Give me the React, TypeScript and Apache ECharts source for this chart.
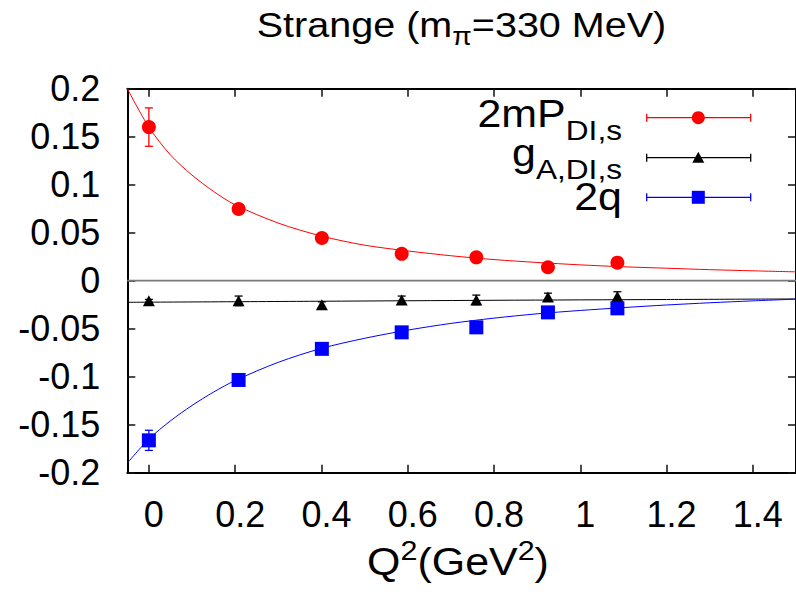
import React, { useEffect, useRef } from 'react';
import * as echarts from 'echarts';

// ---- data ----
const xTicks = [0, 0.2, 0.4, 0.6, 0.8, 1.0, 1.2, 1.4];
const q2 = [0, 0.208, 0.401, 0.586, 0.759, 0.925, 1.086];

const pValues = [0.16, 0.0747, 0.0445, 0.028, 0.0243, 0.014, 0.0188];
const pErrors = [0.02, 0.0025, 0.002, 0.002, 0.002, 0.002, 0.002];

const gValues = [-0.021, -0.021, -0.025, -0.02, -0.02, -0.017, -0.0165];
const gErrors = [0.0015, 0.005, 0.003, 0.004, 0.005, 0.004, 0.005];

const qValues = [-0.1663, -0.1034, -0.071, -0.0538, -0.0486, -0.033, -0.0288];
const qErrors = [0.0105, 0.003, 0.003, 0.003, 0.003, 0.003, 0.003];

const fitX = [-0.05, 0, 0.05, 0.1, 0.15, 0.2, 0.3, 0.4, 0.5, 0.6, 0.7, 0.8, 0.9, 1.0, 1.1, 1.2, 1.3, 1.4, 1.5];
const pFit = [0.2, 0.16, 0.131, 0.11, 0.093, 0.079, 0.06, 0.0465, 0.037, 0.031, 0.026, 0.022, 0.019, 0.0165, 0.0145, 0.013, 0.0115, 0.0103, 0.0092];
const qFit = [-0.19, -0.165, -0.146, -0.13, -0.116, -0.104, -0.085, -0.0705, -0.06, -0.0515, -0.0445, -0.039, -0.0345, -0.031, -0.028, -0.0253, -0.023, -0.021, -0.0192];
const gFitX = [-0.05, 0.4, 0.8, 1.2, 1.5];
const gFit = [-0.0225, -0.0214, -0.0204, -0.0196, -0.019];

const RED = '#ff0000';
const BLUE = '#0000ff';
const BLACK = '#000000';
const FONT = 'Liberation Sans';
const SX = 1.13;

function pairs(xs: number[], ys: number[]) {
  return xs.map((x, i) => [x, ys[i]]);
}
function errs(xs: number[], ys: number[], es: number[]) {
  return xs.map((x, i) => [x, ys[i] - es[i], ys[i] + es[i]]);
}

function errorSeries(data: number[][], color: string) {
  return {
    type: 'custom',
    data,
    encode: { x: 0, y: [1, 2] },
    z: 3,
    renderItem: (params: any, api: any) => {
      const x = api.value(0);
      const lo = api.coord([x, api.value(1)]);
      const hi = api.coord([x, api.value(2)]);
      const w = 4;
      const st = { stroke: color, lineWidth: 1.3 };
      return {
        type: 'group',
        children: [
          { type: 'line', shape: { x1: lo[0], y1: lo[1], x2: hi[0], y2: hi[1] }, style: st },
          { type: 'line', shape: { x1: lo[0] - w, y1: lo[1], x2: lo[0] + w, y2: lo[1] }, style: st },
          { type: 'line', shape: { x1: hi[0] - w, y1: hi[1], x2: hi[0] + w, y2: hi[1] }, style: st },
        ],
      };
    },
  };
}

function richText(x: number, y: number, text: string, rich: any, align: string) {
  return {
    type: 'text',
    x,
    y,
    scaleX: SX,
    z: 20,
    style: { text, rich, align, verticalAlign: 'middle', fill: '#000' },
  };
}

function legendMark(y: number, color: string, symbol: any) {
  const st = { stroke: color, lineWidth: 1.3 };
  const x1 = 646.7;
  const x2 = 750.7;
  return [
    { type: 'line', z: 20, shape: { x1, y1: y, x2, y2: y }, style: st },
    { type: 'line', z: 20, shape: { x1, y1: y - 4, x2: x1, y2: y + 4 }, style: st },
    { type: 'line', z: 20, shape: { x1: x2, y1: y - 4, x2, y2: y + 4 }, style: st },
    symbol,
  ];
}

export default function App() {
  const ref = useRef<HTMLDivElement>(null);
  useEffect(() => {
    if (!ref.current) return;
    const chart = echarts.init(ref.current, undefined, { renderer: 'svg' });
    const labelStyle = { fontFamily: FONT, fontSize: 36, color: '#000' };
    const fmt = (v: number) => String(parseFloat(v.toFixed(2)));
    const tickStyle = { show: true, inside: true, length: 8, lineStyle: { color: '#111', width: 1.5 } };
    const axLine = { show: true, onZero: false, lineStyle: { color: '#000', width: 2 } };

    const a = (fs: number) => ({ fontFamily: FONT, fontSize: fs, fill: '#000' });
    const sub = (fs: number, p: number) => ({ fontFamily: FONT, fontSize: fs, fill: '#000', padding: [p, 0, 0, 0] });
    const sup = (fs: number, p: number) => ({ fontFamily: FONT, fontSize: fs, fill: '#000', padding: [0, 0, p, 0] });

    const ly1 = 117.7, ly2 = 157.7, ly3 = 197.3, lx = 698.3;

    const option: any = {
      animation: false,
      grid: { left: 127.3, top: 88.7, width: 672, height: 384 },
      xAxis: [
        {
          type: 'value', min: -0.05, max: 1.5, position: 'bottom',
          axisLine: axLine,
          axisTick: { ...tickStyle, customValues: xTicks },
          axisLabel: { ...labelStyle, customValues: xTicks, margin: 24, padding: [0, 0, 0, 10], formatter: fmt },
          splitLine: { show: false },
        },
        {
          type: 'value', min: -0.05, max: 1.5, position: 'top',
          axisLine: axLine,
          axisTick: { ...tickStyle, customValues: xTicks },
          axisLabel: { show: false },
          splitLine: { show: false },
        },
      ],
      yAxis: [
        {
          type: 'value', min: -0.2, max: 0.2, interval: 0.05, position: 'left',
          axisLine: axLine,
          axisTick: tickStyle,
          axisLabel: { ...labelStyle, margin: 27, formatter: fmt },
          splitLine: { show: false },
        },
        {
          type: 'value', min: -0.2, max: 0.2, interval: 0.05, position: 'right',
          axisLine: axLine,
          axisTick: tickStyle,
          axisLabel: { show: false },
          splitLine: { show: false },
        },
      ],
      series: [
        {
          type: 'line', data: [[-0.05, 0], [1.5, 0]], symbol: 'none', z: 1,
          lineStyle: { color: '#7a7a7a', width: 1.8 },
        },
        { type: 'line', data: pairs(fitX, pFit), smooth: 0.3, symbol: 'none', z: 2, lineStyle: { color: RED, width: 1 } },
        { type: 'line', data: pairs(gFitX, gFit), smooth: 0.3, symbol: 'none', z: 2, lineStyle: { color: BLACK, width: 1 } },
        { type: 'line', data: pairs(fitX, qFit), smooth: 0.3, symbol: 'none', z: 2, lineStyle: { color: BLUE, width: 1 } },
        errorSeries(errs(q2, pValues, pErrors), RED),
        errorSeries(errs(q2, gValues, gErrors), BLACK),
        errorSeries(errs(q2, qValues, qErrors), BLUE),
        { type: 'scatter', data: pairs(q2, pValues), symbol: 'circle', symbolSize: 14, z: 4, itemStyle: { color: RED, opacity: 1 } },
        { type: 'scatter', data: pairs(q2, gValues), symbol: 'triangle', symbolSize: [12, 11], z: 4, itemStyle: { color: BLACK, opacity: 1 } },
        { type: 'scatter', data: pairs(q2, qValues), symbol: 'rect', symbolSize: 14, z: 4, itemStyle: { color: BLUE, opacity: 1 } },
      ],
      graphic: [
        richText(461.5, 24.5, '{a|Strange (m}{s|π}{a|=330 MeV)}', { a: a(35), s: sub(25, 24) }, 'center'),
        richText(458, 562, '{a|Q}{p|2}{a|(GeV}{p|2}{a|)}', { a: a(38), p: sup(27, 22) }, 'center'),
        richText(622, 113.5, '{a|2mP}{s|DI,s}', { a: a(38), s: sub(28, 33) }, 'right'),
        richText(622, 153, '{a|g}{s|A,DI,s}', { a: a(38), s: sub(28, 32) }, 'right'),
        richText(622, 197, '{a|2q}', { a: a(38) }, 'right'),
        ...legendMark(ly1, RED, { type: 'circle', z: 21, shape: { cx: lx, cy: ly1, r: 6.5 }, style: { fill: RED } }),
        ...legendMark(ly2, BLACK, {
          type: 'polygon', z: 21,
          shape: { points: [[lx - 6, ly2 + 5], [lx + 6, ly2 + 5], [lx, ly2 - 6]] },
          style: { fill: BLACK },
        }),
        ...legendMark(ly3, BLUE, { type: 'rect', z: 21, shape: { x: lx - 6.5, y: ly3 - 6.5, width: 13, height: 13 }, style: { fill: BLUE } }),
      ],
    };
    chart.setOption(option);
    return () => chart.dispose();
  }, []);
  return <div ref={ref} style={{ position: 'absolute', left: 0, top: 0, width: 796, height: 600 }} />;
}
